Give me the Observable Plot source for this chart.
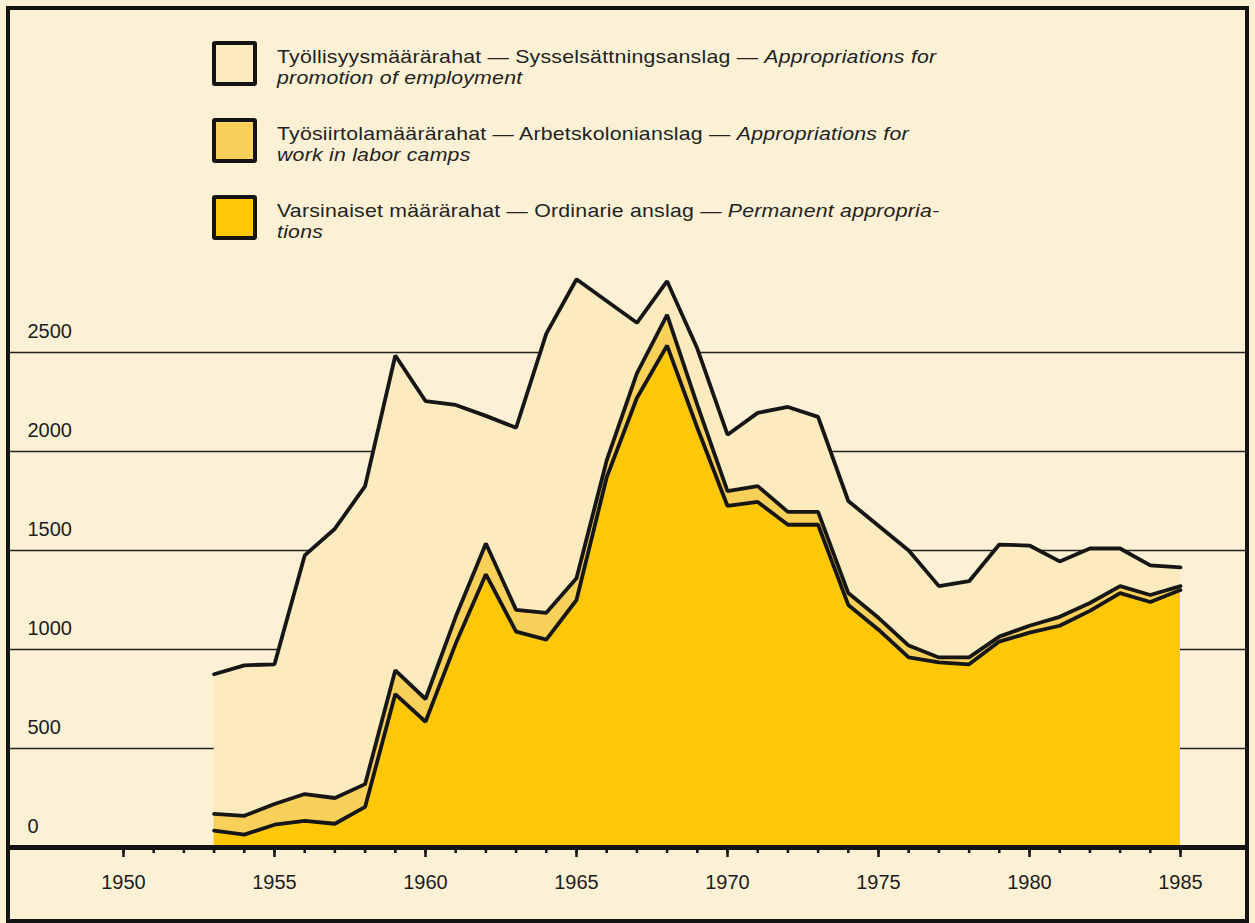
<!DOCTYPE html>
<html>
<head>
<meta charset="utf-8">
<script src="https://cdn.jsdelivr.net/npm/d3@7"></script>
<script src="https://cdn.jsdelivr.net/npm/@observablehq/plot@0.6"></script>
<style>
  html, body { margin: 0; padding: 0; background: #fcf1d4; }
  #wrap { position: relative; width: 1255px; height: 923px; overflow: hidden; background: #fcf1d4;
          font-family: "Liberation Sans", Arial, Helvetica, sans-serif; color: #1a1a1a; }
  #wrap svg { position: absolute; left: 0; top: 0; }
  #border { position: absolute; left: 6px; top: 6px; width: 1243px; height: 917px; box-sizing: border-box;
            border: 4px solid #141414; pointer-events: none; }
  .sw { position: absolute; left: 212px; width: 45px; height: 45px; box-sizing: border-box;
        border: 4px solid #141414; border-radius: 3px; }
  .lt { position: absolute; left: 277px; font-size: 18.5px; line-height: 21px; letter-spacing: 0.2px;
        white-space: nowrap; color: #222; transform: scaleX(1.15); transform-origin: 0 0; }
</style>
</head>
<body>
<div id="wrap"></div>
<script>
// ---- data (millions of marks) ----
const years = [1953,1954,1955,1956,1957,1958,1959,1960,1961,1962,1963,1964,1965,1966,1967,1968,1969,
               1970,1971,1972,1973,1974,1975,1976,1977,1978,1979,1980,1981,1982,1983,1984,1985];
// Varsinaiset määrärahat — Permanent appropriations
const permanent = [85,65,115,135,120,205,775,635,1030,1380,1090,1050,1250,1870,2270,2535,2120,
                   1725,1745,1630,1630,1225,1100,960,935,925,1040,1085,1120,1195,1285,1240,1300];
// Työsiirtolamäärärahat — Work in labor camps
const laborCamps = [85,95,105,135,130,115,120,115,135,155,110,135,110,85,125,155,115,
                    75,80,65,65,60,60,60,25,35,25,35,45,40,35,35,20];
// Työllisyysmäärärahat — Promotion of employment
const employment = [705,760,705,1205,1360,1505,1590,1505,1070,645,920,1410,1510,805,255,170,285,
                    285,370,530,480,465,465,480,360,385,465,405,280,275,190,150,95];

const seriesKeys = ["permanent", "laborCamps", "employment"];
const seriesFills = ["#ffc807", "#f8d05a", "#fbebbf"];

const yTicks = [0, 500, 1000, 1500, 2000, 2500];
const gridValues = [500, 1000, 1500, 2000, 2500];
const majorYears = [1950, 1955, 1960, 1965, 1970, 1975, 1980, 1985];
const minorYears = d3.range(1950, 1986);

const legendMain = [
  "Työllisyysmäärärahat — Sysselsättningsanslag — ",
  "Työsiirtolamäärärahat — Arbetskolonianslag — ",
  "Varsinaiset määrärahat — Ordinarie anslag — "
];
const legendEn1 = ["Appropriations for", "Appropriations for", "Permanent appropria-"];
const legendEn2 = ["promotion of employment", "work in labor camps", "tions"];
const legendFills = ["#fbebbf", "#f8d05a", "#ffc807"];

// ---- tidy table ----
const seriesValues = {permanent, laborCamps, employment};
const rows = years.flatMap((year, i) => seriesKeys.map(s => ({year, series: s, value: seriesValues[s][i]})));

const chart = Plot.plot({
  width: 1255,
  height: 923,
  marginLeft: 10,
  marginRight: 10,
  marginTop: 10,
  marginBottom: 76,
  style: {background: "transparent", fontFamily: "Liberation Sans, Arial, sans-serif", fontSize: "20px", color: "#1c1c1c"},
  x: {domain: [1950, 1985], range: [123, 1180], axis: null, label: null},
  y: {domain: [0, 2500], range: [847, 352], axis: null, label: null},
  color: {domain: seriesKeys, range: seriesFills},
  marks: [
    Plot.ruleY(gridValues, {stroke: "#222", strokeWidth: 1.3}),
    Plot.areaY(rows, Plot.stackY({x: "year", y: "value", z: "series", fill: "series", order: seriesKeys})),
    Plot.lineY(rows, Plot.stackY2({x: "year", y: "value", z: "series", order: seriesKeys,
      stroke: "#161616", strokeWidth: 3.8, strokeLinejoin: "miter"})),
    Plot.ruleY([0], {stroke: "#141414", strokeWidth: 5}),
    Plot.axisX({ticks: minorYears, tickSize: 6, tickFormat: () => "", label: null,
      stroke: "#141414", strokeWidth: 2.5}),
    Plot.axisX({ticks: majorYears, tickSize: 10, tickPadding: 17, tickFormat: d => String(d), label: null,
      stroke: "#141414", strokeWidth: 2.5, fontSize: 20, fill: "#1c1c1c"}),
    Plot.text(yTicks, {y: d => d, text: d => String(d), frameAnchor: "left", dx: 17, dy: -21,
      textAnchor: "start", fontSize: 20, fill: "#1c1c1c"})
  ]
});

const wrap = document.getElementById("wrap");
wrap.appendChild(chart);

// legend
legendMain.forEach((t, i) => {
  const sw = document.createElement("div");
  sw.className = "sw";
  sw.style.top = (41 + i * 77) + "px";
  sw.style.background = legendFills[i];
  wrap.appendChild(sw);
  const tx = document.createElement("div");
  tx.className = "lt";
  tx.style.top = (46 + i * 77) + "px";
  const l1 = document.createElement("div");
  l1.appendChild(document.createTextNode(t));
  const it1 = document.createElement("i");
  it1.textContent = legendEn1[i];
  l1.appendChild(it1);
  const l2 = document.createElement("div");
  const it2 = document.createElement("i");
  it2.textContent = legendEn2[i];
  l2.appendChild(it2);
  tx.appendChild(l1);
  tx.appendChild(l2);
  wrap.appendChild(tx);
});

const border = document.createElement("div");
border.id = "border";
wrap.appendChild(border);
</script>
</body>
</html>
